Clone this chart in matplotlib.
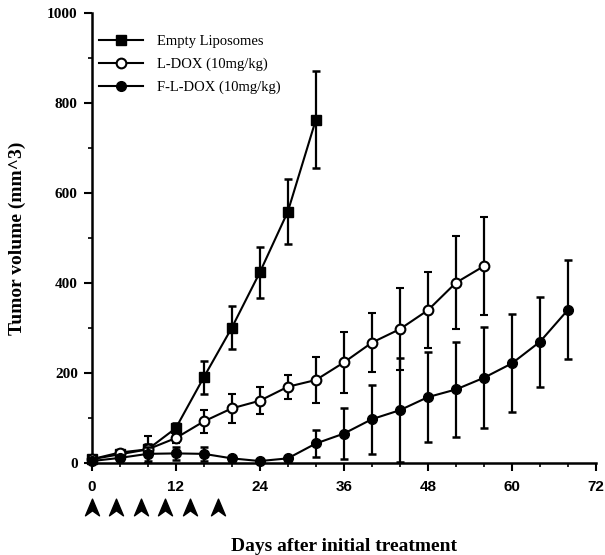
import matplotlib
matplotlib.use("Agg")
import matplotlib.pyplot as plt
from matplotlib.path import Path
from matplotlib.lines import Line2D
import numpy as np

# ---- data ----
days_empty = [0, 4, 8, 12, 16, 20, 24, 28, 32]
vol_empty = [9, 20, 31, 78, 191, 301, 424, 559, 763]
err_empty = [3, 5, 12, 12, 36, 48, 56, 72, 108]

days_ldox = [0, 4, 8, 12, 16, 20, 24, 28, 32, 36, 40, 44, 48, 52, 56]
vol_ldox = [9, 24, 31, 56, 93, 122, 139, 170, 185, 224, 268, 298, 340, 401, 438]
err_ldox = [3, 5, 30, 10, 26, 33, 30, 27, 50, 67, 66, 91, 84, 103, 109]

days_fldox = [0, 4, 8, 12, 16, 20, 24, 28, 32, 36, 40, 44, 48, 52, 56, 60, 64, 68]
vol_fldox = [5, 12, 21, 22, 21, 11, 5, 11, 44, 66, 98, 118, 147, 164, 190, 222, 270, 341]
err_fldox = [2, 4, 15, 14, 16, 5, 3, 5, 30, 56, 77, 116, 100, 105, 112, 109, 100, 110]

treatment_days = [0, 3.5, 7, 10.5, 14, 18]

x_ticks = [0, 12, 24, 36, 48, 60, 72]
y_ticks = [0, 200, 400, 600, 800, 1000]

labels = ["Empty Liposomes", "L-DOX (10mg/kg)", "F-L-DOX (10mg/kg)"]

serif = "Liberation Serif"
sans = "Liberation Sans"

fig = plt.figure(figsize=(6.05, 5.55), dpi=100)
ax = fig.add_axes([0.1516, 0.1652, 0.8336, 0.8114])

common = dict(color="black", lw=1.5, capsize=2.6, capthick=1.8, elinewidth=1.6, clip_on=False)
h1 = ax.errorbar(days_empty, vol_empty, yerr=err_empty, marker="s", ms=7,
                 mfc="black", mec="black", zorder=3, **common)
h2 = ax.errorbar(days_ldox, vol_ldox, yerr=err_ldox, marker="o", ms=7,
                 mfc="white", mec="black", mew=1.5, zorder=4, **common)
h3 = ax.errorbar(days_fldox, vol_fldox, yerr=err_fldox, marker="o", ms=7,
                 mfc="black", mec="black", zorder=5, **common)
for h in (h1, h2, h3):
    for art in h.lines[1] + h.lines[2]:
        art.set_clip_on(False)

ax.set_xlim(0, 72)
ax.set_ylim(0, 1000)
ax.set_xticks(x_ticks)
ax.set_xticks(np.arange(0, 73, 4), minor=True)
ax.set_yticks(y_ticks)
ax.set_yticks(np.arange(0, 1001, 100), minor=True)

ax.spines["top"].set_visible(False)
ax.spines["right"].set_visible(False)
for s in ("left", "bottom"):
    ax.spines[s].set_linewidth(1.8)

ax.tick_params(axis="both", which="major", direction="out", length=6, width=1.5)
ax.tick_params(axis="both", which="minor", direction="out", length=3, width=1.2)
ax.tick_params(axis="x", pad=6)
ax.tick_params(axis="y", pad=4)

for lab in ax.get_xticklabels():
    lab.set_fontfamily(sans)
    lab.set_fontweight("bold")
    lab.set_fontsize(11)
for lab in ax.get_yticklabels():
    lab.set_fontfamily(serif)
    lab.set_fontweight("bold")
    lab.set_fontsize(11)

ax.set_ylabel("Tumor volume (mm^3)", fontfamily=serif, fontweight="bold", fontsize=14)
ax.yaxis.set_label_coords(-0.13, 0.5)
ax.set_xlabel("Days after initial treatment", fontfamily=serif, fontweight="bold", fontsize=14)
ax.xaxis.set_label_coords(0.5, -0.165)

# treatment arrowheads
verts = [(0, 0.5), (0.42, -0.5), (0, -0.2), (-0.42, -0.5), (0, 0.5)]
codes = [Path.MOVETO, Path.LINETO, Path.LINETO, Path.LINETO, Path.CLOSEPOLY]
arrow = Path(verts, codes)
trans = ax.get_xaxis_transform()
ax.plot(treatment_days, [-0.096] * len(treatment_days), linestyle="none",
        marker=arrow, ms=12, color="black", transform=trans, clip_on=False)

handles = [
    Line2D([], [], color="black", lw=1.5, marker="s", ms=7, mfc="black"),
    Line2D([], [], color="black", lw=1.5, marker="o", ms=7, mfc="white", mew=1.5),
    Line2D([], [], color="black", lw=1.5, marker="o", ms=7, mfc="black"),
]
leg = ax.legend(handles, labels, loc="upper left", bbox_to_anchor=(0.0, 0.967),
                frameon=False, prop={"family": serif, "size": 10.5},
                handlelength=3.0, handletextpad=1.0, labelspacing=0.65,
                borderaxespad=0.0, borderpad=0.5)

fig.savefig("out.png", dpi=100)
